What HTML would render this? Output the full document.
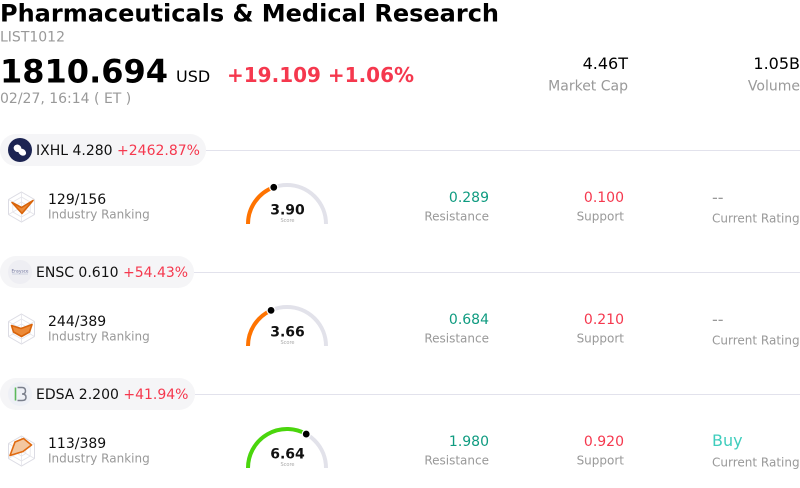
<!DOCTYPE html>
<html>
<head>
<meta charset="utf-8">
<style>
  html,body{margin:0;padding:0;background:#fff;}
  svg{display:block;}
  text{font-family:"DejaVu Sans","Liberation Sans",sans-serif;}
</style>
</head>
<body>
<svg width="800" height="488" viewBox="0 0 800 488" xmlns="http://www.w3.org/2000/svg">
  <!-- Header -->
  <text x="0" y="21.5" font-size="24" font-weight="bold" fill="#000">Pharmaceuticals &amp; Medical Research</text>
  <text x="0" y="41.5" font-size="14" fill="#999">LIST1012</text>
  <text x="0" y="82.5" font-size="32" font-weight="bold" fill="#000">1810.694</text>
  <text x="176" y="82" font-size="16" fill="#000">USD</text>
  <text x="227" y="82" font-size="20" font-weight="bold" fill="#f5384e">+19.109 +1.06%</text>
  <text x="0" y="103" font-size="14" fill="#999">02/27, 16:14 ( ET )</text>

  <text x="628" y="69" font-size="16" fill="#000" text-anchor="end">4.46T</text>
  <text x="628" y="90.5" font-size="14" fill="#999" text-anchor="end">Market Cap</text>
  <text x="800" y="69" font-size="16" fill="#000" text-anchor="end">1.05B</text>
  <text x="800" y="90.5" font-size="14" fill="#999" text-anchor="end">Volume</text>

  <!-- ===== Row 1 ===== -->
  <line x1="206" y1="150.5" x2="800" y2="150.5" stroke="#e2e2ec" stroke-width="1"/>
  <rect x="0" y="134" width="206" height="32" rx="16" fill="#f5f5f7"/>
  <circle cx="20" cy="150" r="12" fill="#1c2452"/>
  <g transform="rotate(35 20 150)">
    <ellipse cx="17" cy="150" rx="4" ry="3.6" fill="#fff"/>
    <ellipse cx="23" cy="150.5" rx="4.2" ry="3.2" fill="#fff"/>
  </g>
  <text x="36" y="155" font-size="14" fill="#111">IXHL 4.280 <tspan fill="#f5384e">+2462.87%</tspan></text>

  <!-- radar 1 -->
  <g transform="translate(21.5 207)">
    <polygon points="0,-15 13,-7.5 13,7.5 0,15 -13,7.5 -13,-7.5" fill="none" stroke="#dcdce4" stroke-width="1"/>
    <polygon points="0,-10 8.7,-5 8.7,5 0,10 -8.7,5 -8.7,-5" fill="none" stroke="#e4e4ea" stroke-width="0.8"/>
    <polygon points="0,-5 4.3,-2.5 4.3,2.5 0,5 -4.3,2.5 -4.3,-2.5" fill="none" stroke="#e4e4ea" stroke-width="0.8"/>
    <line x1="0" y1="-15" x2="0" y2="15" stroke="#e4e4ea" stroke-width="0.8"/>
    <line x1="-13" y1="-7.5" x2="13" y2="7.5" stroke="#e4e4ea" stroke-width="0.8"/>
    <line x1="13" y1="-7.5" x2="-13" y2="7.5" stroke="#e4e4ea" stroke-width="0.8"/>
    <polygon points="-9.5,-4.5 0,0.5 11.5,-6.5 0.5,6.5" fill="#ec8a38" stroke="#d9640a" stroke-width="1.6" stroke-linejoin="round"/>
  </g>
  <text x="48" y="204" font-size="14" fill="#111">129/156</text>
  <text x="48" y="218.5" font-size="12" fill="#999">Industry Ranking</text>

  <!-- gauge 1 -->
  <path d="M248 224 A39 39 0 0 1 326 224" fill="none" stroke="#e2e2ea" stroke-width="4"/>
  <path d="M248 224 A39 39 0 0 1 273.78 187.3" fill="none" stroke="#ff7300" stroke-width="4"/>
  <circle cx="273.78" cy="187.3" r="4" fill="#000" stroke="#fff" stroke-width="1.2"/>
  <text x="287.5" y="214.3" font-size="14" font-weight="bold" fill="#111" text-anchor="middle">3.90</text>
  <text x="287.5" y="222" font-size="5" fill="#aaa" text-anchor="middle">Score</text>

  <text x="489" y="202" font-size="14" fill="#0f9b80" text-anchor="end">0.289</text>
  <text x="489" y="220.5" font-size="12" fill="#999" text-anchor="end">Resistance</text>
  <text x="624" y="202" font-size="14" fill="#f5384e" text-anchor="end">0.100</text>
  <text x="624" y="220.5" font-size="12" fill="#999" text-anchor="end">Support</text>
  <text x="712" y="203" font-size="16" fill="#999">--</text>
  <text x="712" y="222.5" font-size="12" fill="#999">Current Rating</text>

  <!-- ===== Row 2 ===== -->
  <line x1="194" y1="272.5" x2="800" y2="272.5" stroke="#e2e2ec" stroke-width="1"/>
  <rect x="0" y="256" width="194" height="32" rx="16" fill="#f5f5f7"/>
  <circle cx="20" cy="272" r="12" fill="#eeeef3"/>
  <text x="20" y="272.5" font-size="4.2" fill="#6a6f9a" text-anchor="middle">Ensysce</text>
  <line x1="12" y1="274" x2="28" y2="274" stroke="#b0b4cc" stroke-width="0.5"/>
  <text x="36" y="277" font-size="14" fill="#111">ENSC 0.610 <tspan fill="#f5384e">+54.43%</tspan></text>

  <g transform="translate(21.5 329)">
    <polygon points="0,-15 13,-7.5 13,7.5 0,15 -13,7.5 -13,-7.5" fill="none" stroke="#dcdce4" stroke-width="1"/>
    <polygon points="0,-10 8.7,-5 8.7,5 0,10 -8.7,5 -8.7,-5" fill="none" stroke="#e4e4ea" stroke-width="0.8"/>
    <polygon points="0,-5 4.3,-2.5 4.3,2.5 0,5 -4.3,2.5 -4.3,-2.5" fill="none" stroke="#e4e4ea" stroke-width="0.8"/>
    <line x1="0" y1="-15" x2="0" y2="15" stroke="#e4e4ea" stroke-width="0.8"/>
    <line x1="-13" y1="-7.5" x2="13" y2="7.5" stroke="#e4e4ea" stroke-width="0.8"/>
    <line x1="13" y1="-7.5" x2="-13" y2="7.5" stroke="#e4e4ea" stroke-width="0.8"/>
    <polygon points="-10,-3.5 -0.5,-0.5 10.5,-4.5 8,3 0,7.5 -8,3" fill="#ec8a38" stroke="#d9640a" stroke-width="1.6" stroke-linejoin="round"/>
  </g>
  <text x="48" y="326" font-size="14" fill="#111">244/389</text>
  <text x="48" y="340.5" font-size="12" fill="#999">Industry Ranking</text>

  <path d="M248 346 A39 39 0 0 1 326 346" fill="none" stroke="#e2e2ea" stroke-width="4"/>
  <path d="M248 346 A39 39 0 0 1 271.06 310.4" fill="none" stroke="#ff7300" stroke-width="4"/>
  <circle cx="271.06" cy="310.4" r="4" fill="#000" stroke="#fff" stroke-width="1.2"/>
  <text x="287.5" y="336.3" font-size="14" font-weight="bold" fill="#111" text-anchor="middle">3.66</text>
  <text x="287.5" y="344" font-size="5" fill="#aaa" text-anchor="middle">Score</text>

  <text x="489" y="324" font-size="14" fill="#0f9b80" text-anchor="end">0.684</text>
  <text x="489" y="342.5" font-size="12" fill="#999" text-anchor="end">Resistance</text>
  <text x="624" y="324" font-size="14" fill="#f5384e" text-anchor="end">0.210</text>
  <text x="624" y="342.5" font-size="12" fill="#999" text-anchor="end">Support</text>
  <text x="712" y="325" font-size="16" fill="#999">--</text>
  <text x="712" y="344.5" font-size="12" fill="#999">Current Rating</text>

  <!-- ===== Row 3 ===== -->
  <line x1="195" y1="394.5" x2="800" y2="394.5" stroke="#e2e2ec" stroke-width="1"/>
  <rect x="0" y="378" width="195" height="32" rx="16" fill="#f5f5f7"/>
  <circle cx="20" cy="394" r="12" fill="#eef0f6"/>
  <line x1="15.5" y1="387.5" x2="15.5" y2="400.5" stroke="#5bb85b" stroke-width="1.6"/>
  <path d="M17.5 387.5 H22 Q25.5 387.5 25.5 391 Q25.5 394 22 394 Q26 394 26 397.2 Q26 400.5 22 400.5 H17.5" fill="none" stroke="#7a7f8c" stroke-width="1.5"/>
  <text x="36" y="399" font-size="14" fill="#111">EDSA 2.200 <tspan fill="#f5384e">+41.94%</tspan></text>

  <g transform="translate(21.5 451)">
    <polygon points="0,-15 13,-7.5 13,7.5 0,15 -13,7.5 -13,-7.5" fill="none" stroke="#dcdce4" stroke-width="1"/>
    <polygon points="0,-10 8.7,-5 8.7,5 0,10 -8.7,5 -8.7,-5" fill="none" stroke="#e4e4ea" stroke-width="0.8"/>
    <polygon points="0,-5 4.3,-2.5 4.3,2.5 0,5 -4.3,2.5 -4.3,-2.5" fill="none" stroke="#e4e4ea" stroke-width="0.8"/>
    <line x1="0" y1="-15" x2="0" y2="15" stroke="#e4e4ea" stroke-width="0.8"/>
    <line x1="-13" y1="-7.5" x2="13" y2="7.5" stroke="#e4e4ea" stroke-width="0.8"/>
    <line x1="13" y1="-7.5" x2="-13" y2="7.5" stroke="#e4e4ea" stroke-width="0.8"/>
    <polygon points="-11.5,4.5 -6.5,-9 2,-12.5 10,-6 1.5,0.5" fill="#f3c7a0" stroke="#e06a10" stroke-width="1.6" stroke-linejoin="round"/>
  </g>
  <text x="48" y="448" font-size="14" fill="#111">113/389</text>
  <text x="48" y="462.5" font-size="12" fill="#999">Industry Ranking</text>

  <path d="M248 468 A39 39 0 0 1 326 468" fill="none" stroke="#e2e2ea" stroke-width="4"/>
  <path d="M248 468 A39 39 0 0 1 306.22 434.06" fill="none" stroke="#4ad60c" stroke-width="4"/>
  <circle cx="306.22" cy="434.06" r="4" fill="#000" stroke="#fff" stroke-width="1.2"/>
  <text x="287.5" y="458.3" font-size="14" font-weight="bold" fill="#111" text-anchor="middle">6.64</text>
  <text x="287.5" y="466" font-size="5" fill="#aaa" text-anchor="middle">Score</text>

  <text x="489" y="446" font-size="14" fill="#0f9b80" text-anchor="end">1.980</text>
  <text x="489" y="464.5" font-size="12" fill="#999" text-anchor="end">Resistance</text>
  <text x="624" y="446" font-size="14" fill="#f5384e" text-anchor="end">0.920</text>
  <text x="624" y="464.5" font-size="12" fill="#999" text-anchor="end">Support</text>
  <text x="712" y="446" font-size="16" fill="#3fcdbd">Buy</text>
  <text x="712" y="466.5" font-size="12" fill="#999">Current Rating</text>
</svg>
</body>
</html>
